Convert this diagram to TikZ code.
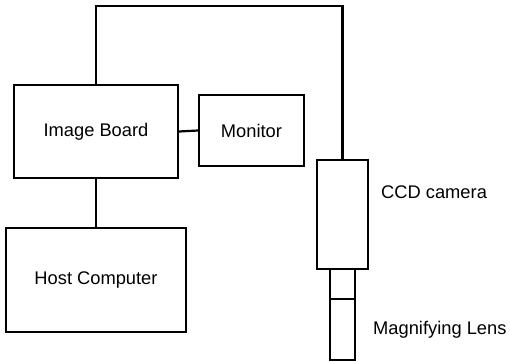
\documentclass[tikz,border=0pt]{standalone}
\usepackage{fontspec}
\setmainfont{Liberation Sans}
\begin{document}
\begin{tikzpicture}[x=1pt,y=-1pt,
  box/.style={draw,line width=2.2pt,rectangle,inner sep=0pt,font=\fontsize{18.3}{21}\selectfont},
  wire/.style={line width=2.2pt},
  lbl/.style={anchor=west,inner sep=0pt,font=\fontsize{18.3}{21}\selectfont}]
\useasboundingbox (0,0) rectangle (510,361);
\node[box,minimum width=164pt,minimum height=93pt] (ib) at (96,131.5) {Image Board};
\node[box,minimum width=105pt,minimum height=71pt] (mon) at (251.5,130.5) {Monitor};
\node[box,minimum width=180pt,minimum height=104pt] (host) at (96,280) {Host Computer};
\node[box,minimum width=51pt,minimum height=109pt] (cam) at (342.5,214.5) {};
\node[box,minimum width=25pt,minimum height=30pt] (lens1) at (342.5,284) {};
\node[box,minimum width=25pt,minimum height=61pt] (lens2) at (342.5,329.5) {};
\node[lbl] (camlbl) at (381,192) {CCD camera};
\node[lbl] (lenslbl) at (373,330) {Magnifying Lens};
\coordinate (top) at (200,6);
\draw[wire] (ib.north) |- (top) -| (cam.north);
\draw[wire] (ib.east) -- (mon.west);
\draw[wire] (ib.south) -- (host.north);
\end{tikzpicture}
\end{document}
